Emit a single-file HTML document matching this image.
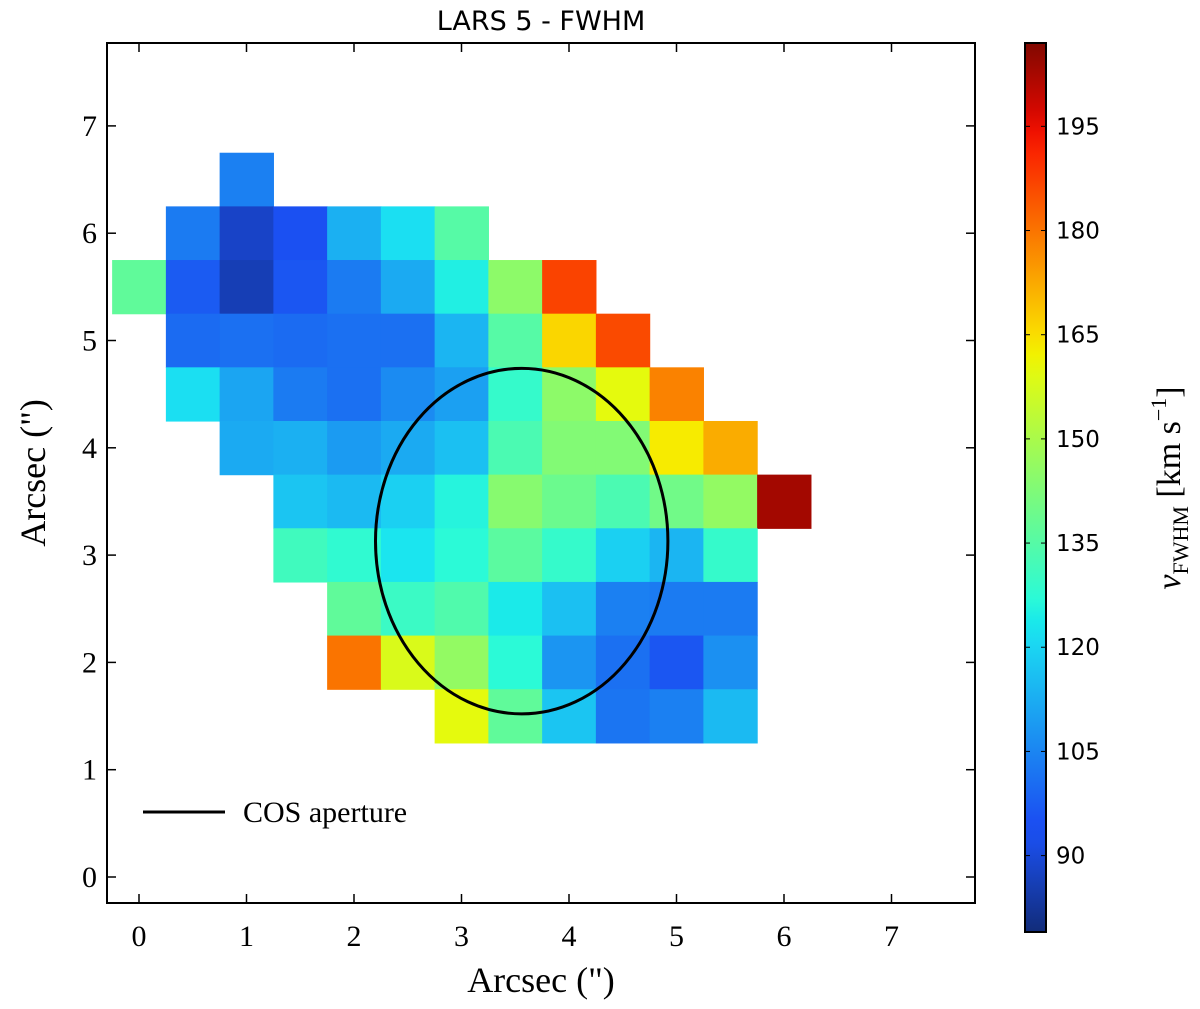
<!DOCTYPE html>
<html><head><meta charset="utf-8"><style>
body{margin:0;background:#fff;}
svg text{font-family:"Liberation Serif",serif;}
</style></head><body>
<svg id="chart" width="1200" height="1004" xmlns="http://www.w3.org/2000/svg">
<text x="541" y="30" font-size="27" text-anchor="middle" style="font-family:'DejaVu Sans',sans-serif">LARS 5 - FWHM</text>
<g id="cells"></g>
<g id="axes"></g>
<g id="cbar"></g>
</svg>
<script>
const rowYs = [6.5,6.0,5.5,5.0,4.5,4.0,3.5,3.0,2.5,2.0,1.5];
const rowStartX = [1.0,0.5,0.0,0.5,0.5,1.0,1.5,1.5,2.0,2.0,3.0];
const rowValues = [
 [104],
 [103,88,95,113,122,135],
 [137,97,86,96,103,112,125,145,187],
 [100,101,100,101,101,114,135,166,186],
 [122,111,103,101,106,110,129,145,160,178],
 [112,113,109,112,116,133,143,143,163,172],
 [117,115,119,126,144,139,133,140,146,203],
 [131,128,123,127,136,129,119,114,129],
 [137,130,134,124,116,104,103,103],
 [180,158,146,127,108,101,96,107],
 [160,137,117,102,104,115]
];
const xTicks = [0,1,2,3,4,5,6,7];
const yTicks = [0,1,2,3,4,5,6,7];
const cbTicks = [90,105,120,135,150,165,180,195];
const vmin = 79, vmax = 207;
const aperture = {cx:3.56, cy:3.13, rx:1.36, ry:1.61};

const NS="http://www.w3.org/2000/svg";
const X0=107,X1=975,Y0=43,Y1=903;
const xs=v=>139+107.5*v, ys=v=>877-107.3*v;
function el(t,a,p){const e=document.createElementNS(NS,t);for(const k in a)e.setAttribute(k,a[k]);p.appendChild(e);return e;}
function interp(pts,t){for(let i=1;i<pts.length;i++){if(t<=pts[i][0]){const a=pts[i-1],b=pts[i];return a[1]+(b[1]-a[1])*(t-a[0])/(b[0]-a[0]);}}return pts[pts.length-1][1];}
function jet(v){let t=Math.max(0,Math.min(1,(v-vmin)/(vmax-vmin)));
 let r=interp([[0,0],[0.35,0],[0.66,1],[0.89,1],[1,0.5]],t);
 let g=interp([[0,0],[0.125,0],[0.375,1],[0.64,1],[0.91,0],[1,0]],t);
 let b=interp([[0,0.5],[0.11,1],[0.34,1],[0.65,0],[1,0]],t);
 const r2=r+0.08*b*(1-r), g2=g+0.3*b*(1-g), b2=b*0.95;
 r=r2*0.95+0.03; g=g2*0.95+0.03; b=b2;
 return `rgb(${Math.round(Math.min(1,r)*255)},${Math.round(Math.min(1,g)*255)},${Math.round(b*255)})`;}
const cells=document.getElementById('cells');
rowValues.forEach((row,ri)=>{row.forEach((v,ci)=>{
 const cx=rowStartX[ri]+ci*0.5, cy=rowYs[ri];
 const r=el('rect',{x:xs(cx-0.25),y:ys(cy+0.25),width:xs(cx+0.25)-xs(cx-0.25)+0.6,height:ys(cy-0.25)-ys(cy+0.25)+0.6,fill:jet(v)},cells);
 
 
});});
const ax=document.getElementById('axes');
const ell=el('ellipse',{cx:xs(aperture.cx),cy:ys(aperture.cy),rx:aperture.rx*107.5,ry:aperture.ry*107.3,fill:'none',stroke:'#000','stroke-width':3},ax);


const fr=el('rect',{x:X0,y:Y0,width:X1-X0,height:Y1-Y0,fill:'none',stroke:'#000','stroke-width':2},ax);


xTicks.forEach(v=>{const x=xs(v);
 el('line',{x1:x,x2:x,y1:Y1,y2:Y1-9,stroke:'#000','stroke-width':1.5},ax);
 el('line',{x1:x,x2:x,y1:Y0,y2:Y0+9,stroke:'#000','stroke-width':1.5},ax);
 const t=el('text',{x:x,y:946,'font-size':30,'text-anchor':'middle'},ax);t.textContent=v;
 
 
});
yTicks.forEach(v=>{const y=ys(v);
 el('line',{x1:X0,x2:X0+9,y1:y,y2:y,stroke:'#000','stroke-width':1.5},ax);
 el('line',{x1:X1,x2:X1-9,y1:y,y2:y,stroke:'#000','stroke-width':1.5},ax);
 const t=el('text',{x:97,y:y+10,'font-size':30,'text-anchor':'end'},ax);t.textContent=v;
 
 
});
let t=el('text',{x:541,y:992,'font-size':36,'text-anchor':'middle'},ax);t.textContent='Arcsec (")';


t=el('text',{x:0,y:0,'font-size':36,'text-anchor':'middle',transform:'translate(45,473) rotate(-90)'},ax);t.textContent='Arcsec (")';


const ll=el('line',{x1:143,x2:225,y1:812,y2:812,stroke:'#000','stroke-width':3},ax);


t=el('text',{x:243,y:822,'font-size':30},ax);t.textContent='COS aperture';


// colorbar
const cb=document.getElementById('cbar');
const CX0=1025,CX1=1046,CY0=43,CY1=932;
const cbY=v=>CY1-(v-vmin)/(vmax-vmin)*(CY1-CY0);
const defs=el('defs',{},cb);
const lg=el('linearGradient',{id:'jetg',x1:0,y1:1,x2:0,y2:0},defs);
for(let i=0;i<=40;i++){const v=vmin+(vmax-vmin)*i/40;el('stop',{offset:i/40,'stop-color':jet(v)},lg);}
const cr=el('rect',{x:CX0,y:CY0,width:CX1-CX0,height:CY1-CY0,fill:'url(#jetg)',stroke:'#000','stroke-width':2},cb);


cbTicks.forEach(v=>{const y=cbY(v);
 el('line',{x1:CX1,x2:CX1-5,y1:y,y2:y,stroke:'#000','stroke-width':1},cb);
 el('line',{x1:CX0,x2:CX0+5,y1:y,y2:y,stroke:'#000','stroke-width':1},cb);
 const tt=el('text',{x:1056,y:y+8,'font-size':23,style:"font-family:'DejaVu Sans',sans-serif"},cb);tt.textContent=v;
 
 
});
t=el('text',{x:0,y:0,'font-size':34,'text-anchor':'middle',transform:'translate(1180,488) rotate(-90)'},cb);
t.innerHTML='<tspan font-style="italic">v</tspan><tspan font-size="22" dy="8">FWHM</tspan><tspan dy="-8"> [km s</tspan><tspan font-size="22" dy="-14">−1</tspan><tspan dy="14">]</tspan>';


</script>
</body></html>
